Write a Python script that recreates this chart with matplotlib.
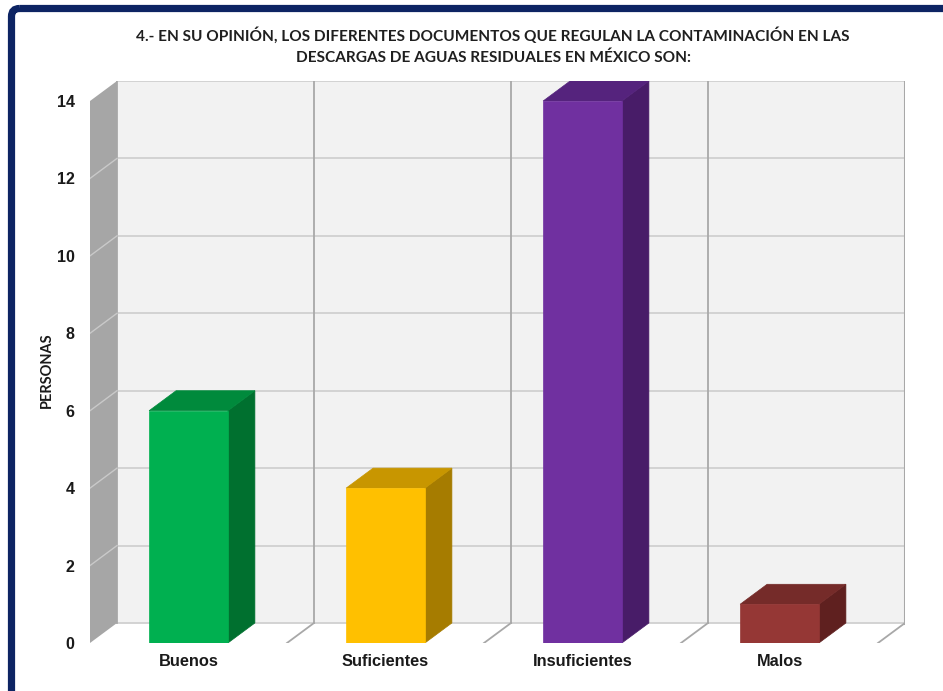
import matplotlib.pyplot as plt
from matplotlib.patches import Polygon, Rectangle, FancyBboxPatch

categories = ["Buenos", "Suficientes", "Insuficientes", "Malos"]
personas = [6, 4, 14, 1]
yticks = [0, 2, 4, 6, 8, 10, 12, 14]
title = ("4.- EN SU OPINIÓN, LOS DIFERENTES DOCUMENTOS QUE REGULAN LA CONTAMINACIÓN EN LAS\n"
         "DESCARGAS DE AGUAS RESIDUALES EN MÉXICO SON:")

# front / top / side shades for each bar
face_colors = ["#00b050", "#ffc000", "#7030a0", "#953735"]
top_colors = ["#008a3c", "#c89600", "#55237d", "#752b29"]
side_colors = ["#00702f", "#a67c00", "#481c68", "#5f201f"]

W, H = 943, 691
fig = plt.figure(figsize=(W / 100, H / 100), dpi=100)

# navy frame around the slide
bg = fig.add_axes([0, 0, 1, 1])
bg.set_xlim(0, W)
bg.set_ylim(H, 0)
bg.axis("off")
bg.add_patch(FancyBboxPatch((11.5, 8.5), W + 40, H + 40,
                            boxstyle="round,pad=0,rounding_size=8",
                            fc="none", ec="#0d2463", lw=5.2))

# 3d offset of the plot, in data units
dx = 0.137
dy = 0.517
xmin, xmax = -0.5, len(categories) - 0.5
ymax = 14

left, right, top, bottom = 90, 905, 81, 643
ax = fig.add_axes([left / W, 1 - bottom / H, (right - left) / W, (bottom - top) / H])
ax.set_xlim(xmin, xmax + dx)
ax.set_ylim(0, ymax + dy)
for s in ax.spines.values():
    s.set_visible(False)
ax.set_facecolor("none")

# back wall
ax.add_patch(Rectangle((xmin + dx, dy), xmax - xmin, ymax, fc="#f2f2f2", ec="none", zorder=0))
for v in yticks:
    ax.plot([xmin + dx, xmax + dx], [v + dy, v + dy], color="#d0d0d0", lw=1.3, zorder=1)
for k in range(len(categories) + 1):
    x = xmin + k + dx
    ax.plot([x, x], [dy, ymax + dy], color="#a8a8a8", lw=1.3 if k < len(categories) else 2.2,
            zorder=1)

# side wall
ax.add_patch(Polygon([(xmin, 0), (xmin, ymax), (xmin + dx, ymax + dy), (xmin + dx, dy)],
                     closed=True, fc="#a6a6a6", ec="none", zorder=2))
for v in yticks[1:-1]:
    ax.plot([xmin, xmin + dx], [v, v + dy], color="#c9c9c9", lw=1.0, zorder=2)

# floor dividers
for k in range(1, len(categories) + 1):
    x = xmin + k
    ax.plot([x, x + dx], [0, dy], color="#a8a8a8", lw=1.3, zorder=1)

# bars
bw = 0.4
for i, v in enumerate(personas):
    x0, x1 = i - bw / 2, i + bw / 2
    ax.add_patch(Polygon([(x1, 0), (x1 + dx, dy), (x1 + dx, v + dy), (x1, v)],
                         closed=True, fc=side_colors[i], ec=side_colors[i], lw=0.5, zorder=3))
    ax.add_patch(Polygon([(x0, v), (x0 + dx, v + dy), (x1 + dx, v + dy), (x1, v)],
                         closed=True, fc=top_colors[i], ec=top_colors[i], lw=0.5, zorder=3))
    ax.add_patch(Rectangle((x0, 0), bw, v, fc=face_colors[i], ec=face_colors[i], lw=0.5,
                           zorder=4))

ax.set_yticks(yticks)
ax.set_yticklabels([str(t) for t in yticks], fontfamily="Liberation Sans",
                   fontweight="bold", fontsize=11.5, color="#1a1a1a")
ax.set_xticks(range(len(categories)))
ax.set_xticklabels(categories, fontfamily="Liberation Sans", fontweight="bold",
                   fontsize=11.8, color="#1a1a1a")
ax.tick_params(axis="y", length=0, pad=11)
ax.tick_params(axis="x", length=0, pad=8)

fig.text(47 / W, 1 - 370 / H, "PERSONAS", rotation=90, ha="center", va="center",
         fontfamily="Lato", fontweight="bold", fontsize=10.5, color="#1a1a1a")
fig.text(493 / W, 1 - 46 / H, title, ha="center", va="center", fontfamily="Lato",
         fontweight="bold", fontsize=11.1, linespacing=1.65, color="#1f1f1f")

fig.savefig("out.png", dpi=100)
